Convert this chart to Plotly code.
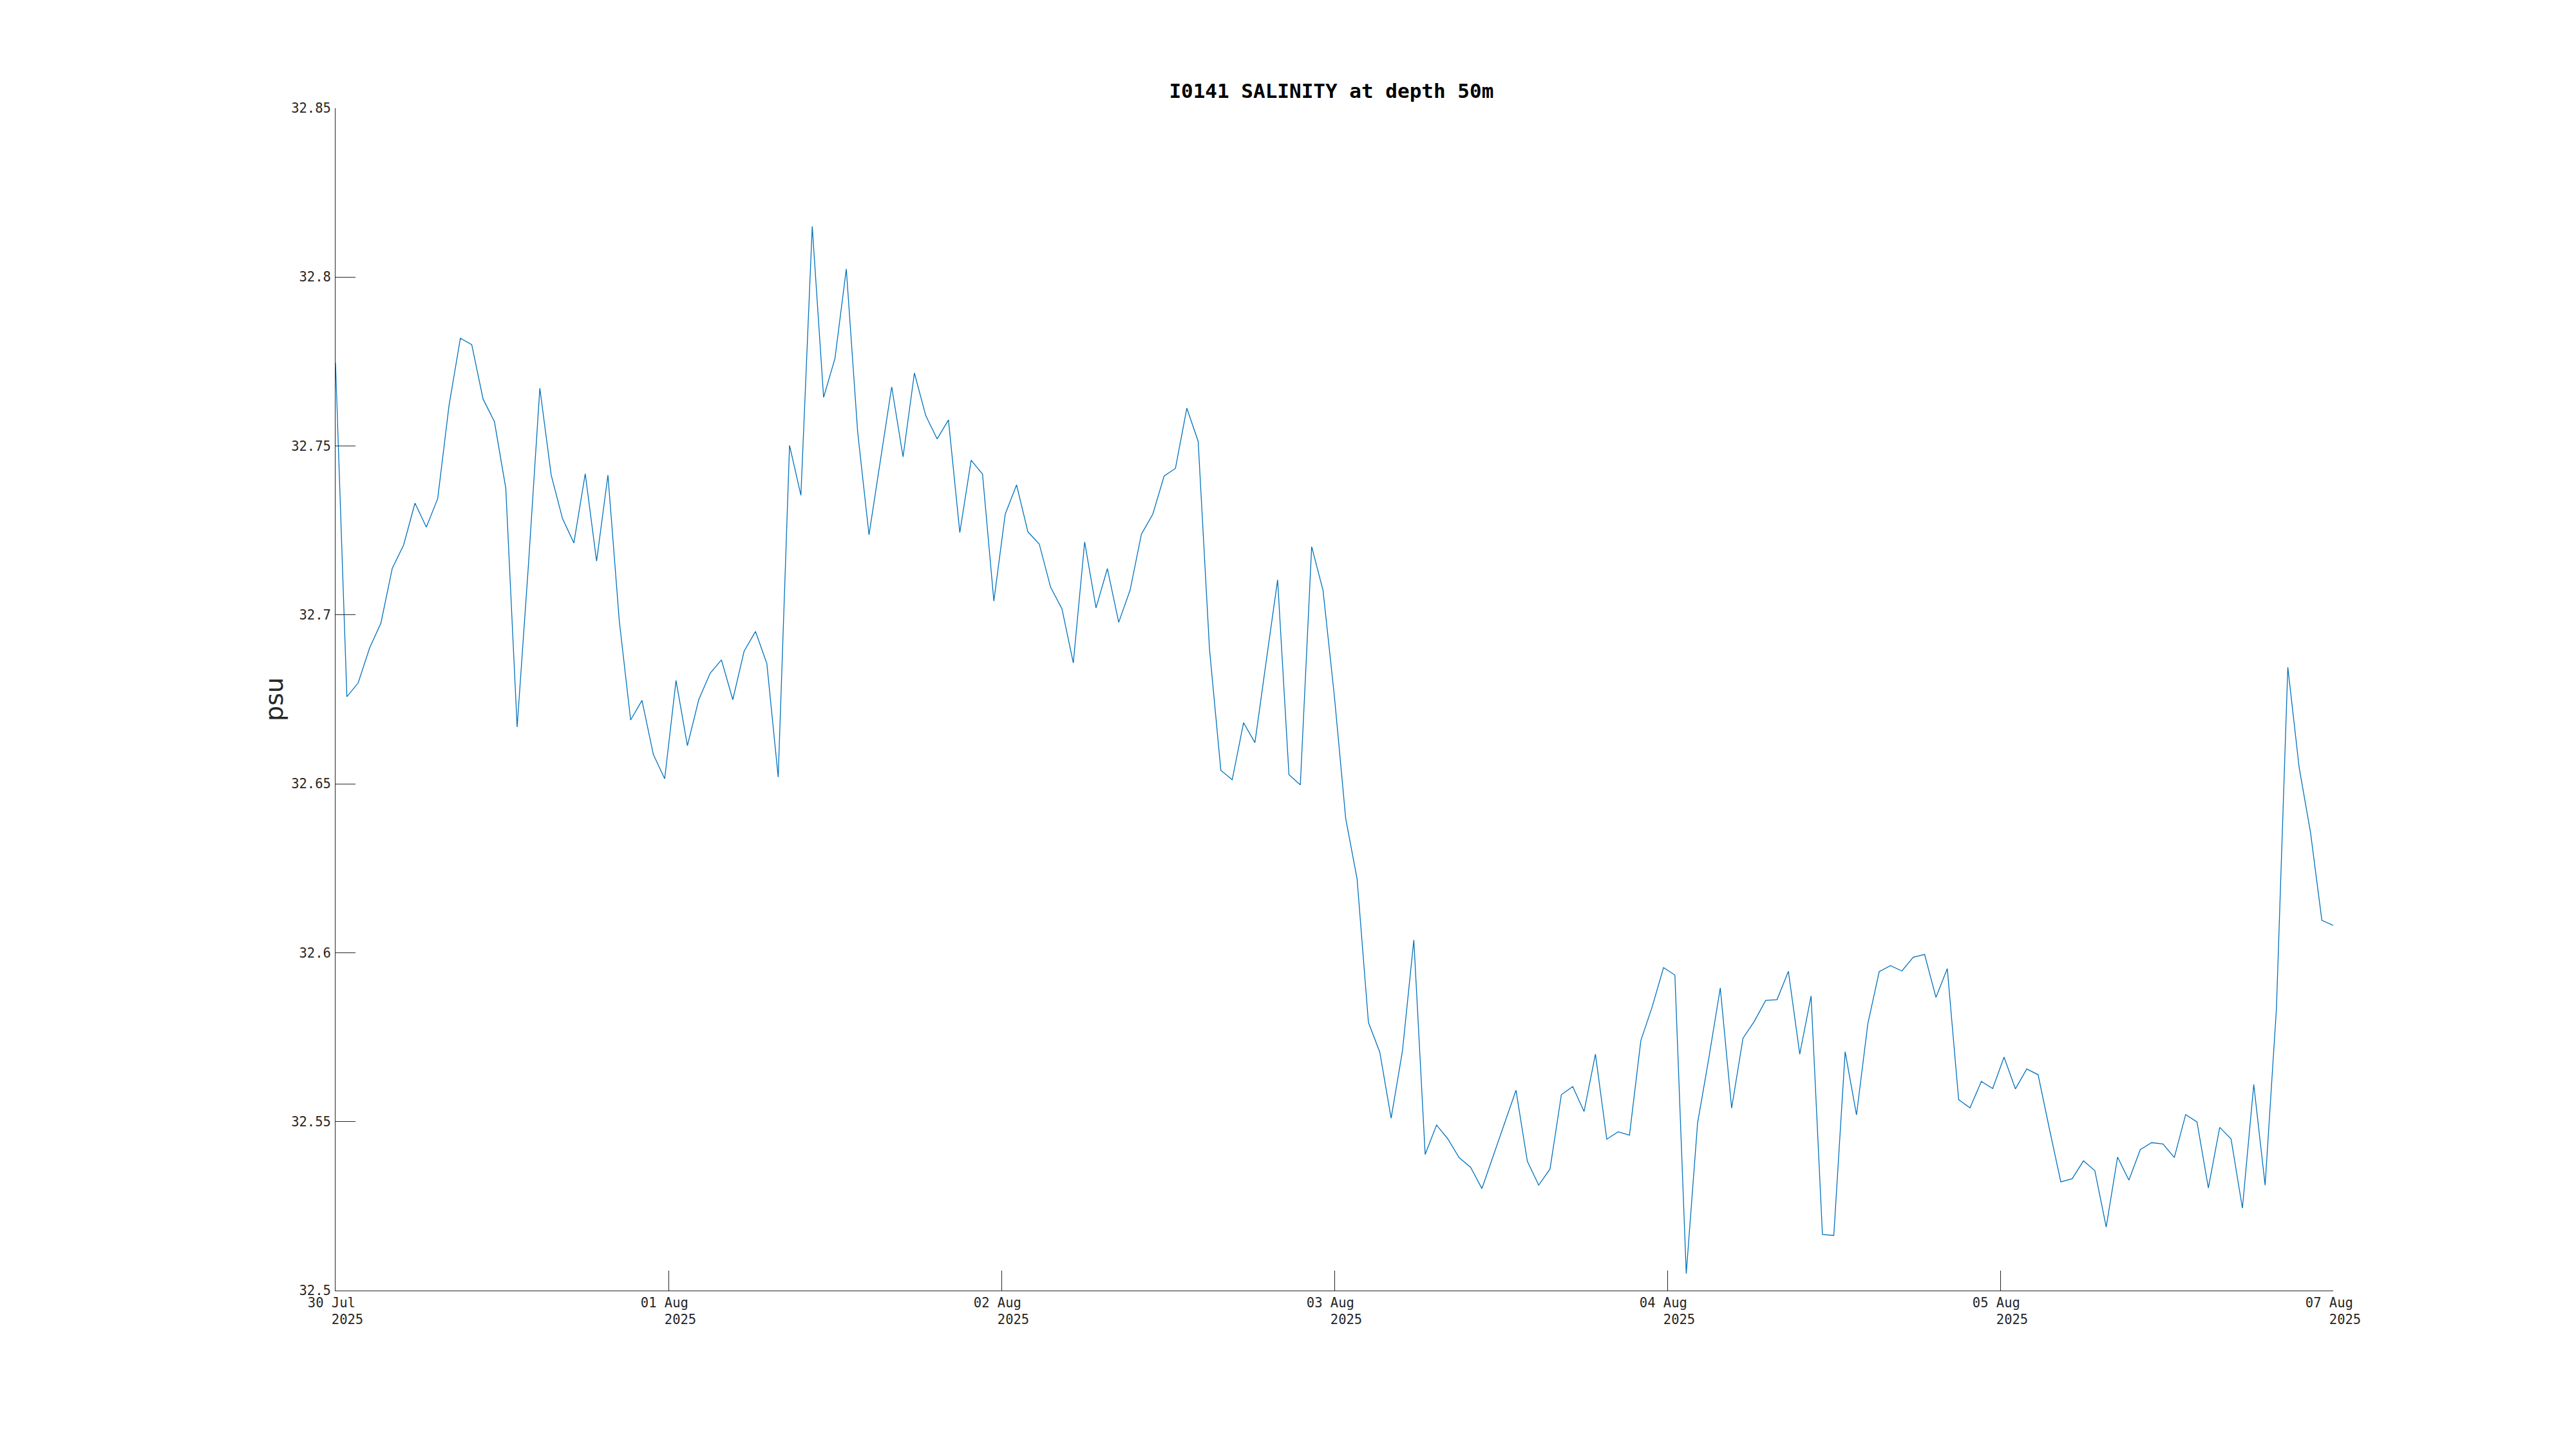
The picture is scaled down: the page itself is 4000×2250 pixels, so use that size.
import numpy as np
import plotly.graph_objects as go

# Salinity samples (psu)
salinity = [
    32.7746, 32.6758, 32.6799, 32.6902, 32.6976, 32.7138, 32.7207, 32.7331, 32.7260, 32.7344,
    32.7620, 32.7819, 32.7800, 32.7639, 32.7572, 32.7375, 32.6668, 32.7150, 32.7671, 32.7414,
    32.7285, 32.7213, 32.7418, 32.7159, 32.7414, 32.6982, 32.6689, 32.6747, 32.6587, 32.6515,
    32.6806, 32.6613, 32.6749, 32.6827, 32.6867, 32.6749, 32.6893, 32.6951, 32.6856, 32.6520,
    32.7502, 32.7354, 32.8150, 32.7644, 32.7759, 32.8024, 32.7542, 32.7237, 32.7456, 32.7675,
    32.7468, 32.7716, 32.7590, 32.7521, 32.7577, 32.7244, 32.7458, 32.7417, 32.7041, 32.7298,
    32.7385, 32.7246, 32.7210, 32.7082, 32.7018, 32.6858, 32.7216, 32.7021, 32.7137, 32.6978,
    32.7073, 32.7239, 32.7298, 32.7411, 32.7434, 32.7612, 32.7514, 32.6898, 32.6540, 32.6512,
    32.6681, 32.6622, 32.6864, 32.7104, 32.6527, 32.6497, 32.7202, 32.7073, 32.6760, 32.6397,
    32.6219, 32.5794, 32.5706, 32.5510, 32.5710, 32.6038, 32.5403, 32.5490, 32.5449, 32.5393,
    32.5365, 32.5302, 32.5399, 32.5497, 32.5593, 32.5383, 32.5312, 32.5360, 32.5580, 32.5604,
    32.5530, 32.5700, 32.5448, 32.5470, 32.5460, 32.5740, 32.5840, 32.5956, 32.5934, 32.5050,
    32.5496, 32.5690, 32.5896, 32.5540, 32.5747, 32.5797, 32.5859, 32.5861, 32.5945, 32.5700,
    32.5872, 32.5166, 32.5163, 32.5707, 32.5520, 32.5790, 32.5944, 32.5962, 32.5946, 32.5987,
    32.5995, 32.5868, 32.5953, 32.5565, 32.5541, 32.5619, 32.5598, 32.5691, 32.5597, 32.5656,
    32.5639, 32.5478, 32.5322, 32.5331, 32.5384, 32.5355, 32.5188, 32.5395, 32.5327, 32.5417,
    32.5438, 32.5434, 32.5394, 32.5521, 32.5499, 32.5304, 32.5483, 32.5449, 32.5244, 32.5610,
    32.5312, 32.5836, 32.6845, 32.6548, 32.6356, 32.6096, 32.6081,
]

# sample index (hourly samples)
sample_index = np.arange(len(salinity))

x_tick_dates = ["30 Jul", "01 Aug", "02 Aug", "03 Aug", "04 Aug", "05 Aug", "07 Aug"]
x_tick_year = "2025"
y_tick_values = [32.5, 32.55, 32.6, 32.65, 32.7, 32.75, 32.8, 32.85]
y_tick_labels = ["32.5", "32.55", "32.6", "32.65", "32.7", "32.75", "32.8", "32.85"]

title_text = "I0141 SALINITY at depth 50m"
y_label = "psu"

NB = "\u00a0"
x_first, x_last = sample_index[0], sample_index[-1]
x_tick_pos = np.linspace(x_first, x_last, len(x_tick_dates))
x_tick_text = [d + NB + "<br>" + NB * 3 + x_tick_year for d in x_tick_dates]

axis_color = "#262626"
mono = "DejaVu Sans Mono"

fig = go.Figure()
fig.add_trace(go.Scatter(
    x=sample_index, y=salinity, mode="lines",
    line=dict(color="#0072BD", width=1.3),
    hoverinfo="skip", showlegend=False,
))

fig.update_layout(
    width=4000, height=2250,
    paper_bgcolor="white", plot_bgcolor="white",
    margin=dict(l=513, r=385, t=160, b=254, pad=0),
    title=dict(
        text="<b>" + title_text + "</b>",
        font=dict(family=mono, size=31, color="black"),
        x=0.4985, xanchor="center", xref="paper",
        y=1 - 133 / 2250, yanchor="middle", yref="container",
    ),
    showlegend=False,
)

fig.update_xaxes(
    range=[x_first, x_last],
    tickmode="array", tickvals=x_tick_pos, ticktext=x_tick_text,
    ticks="inside", ticklen=31, tickwidth=1, tickcolor=axis_color,
    showline=True, linecolor=axis_color, linewidth=1,
    showgrid=False, zeroline=False, mirror=False,
    tickfont=dict(family=mono, size=20.5, color=axis_color),
)
fig.update_yaxes(
    range=[32.5, 32.85],
    tickmode="array", tickvals=y_tick_values, ticktext=y_tick_labels,
    ticks="inside", ticklen=31, tickwidth=1, tickcolor=axis_color,
    showline=True, linecolor=axis_color, linewidth=1,
    showgrid=False, zeroline=False, mirror=False,
    tickfont=dict(family=mono, size=20.5, color=axis_color),
    ticklabelstandoff=2,
)

fig.add_annotation(
    text=y_label, textangle=-90,
    xref="paper", yref="paper",
    x=(424 - 519) / 3101, y=0.5,
    xanchor="center", yanchor="middle", showarrow=False,
    font=dict(family="DejaVu Sans", size=38, color=axis_color),
)

fig.write_html("out.html")
